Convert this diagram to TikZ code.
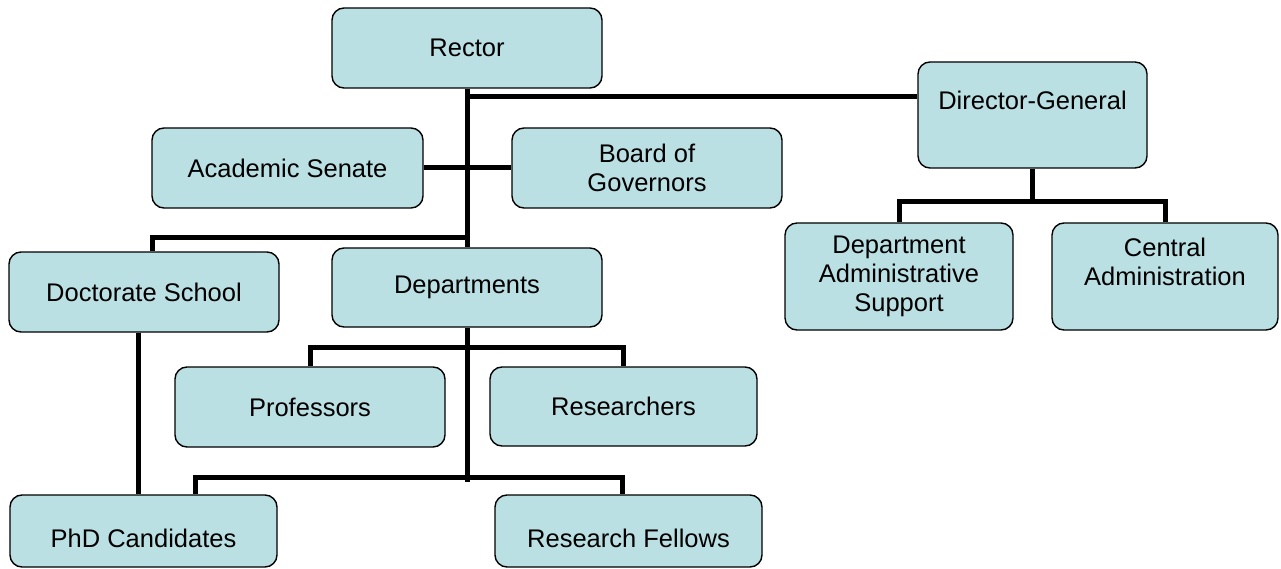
\documentclass[tikz,border=0pt]{standalone}
\usepackage{fontspec}
\setmainfont{Liberation Sans}
\definecolor{boxfill}{RGB}{187,224,227}
\begin{document}
\begin{tikzpicture}[x=1pt,y=-1pt,
  box/.style={draw=black, line width=1.4pt, fill=boxfill, rounded corners=12pt,
    inner sep=0pt, align=center, font=\fontsize{25.5}{29}\selectfont},
  conn/.style={draw=black, line width=5pt, line join=miter}]
\useasboundingbox (0,0) rectangle (1281,569);
% junction coordinates
\coordinate (j1) at (467,97);
\coordinate (j3) at (467,238);
\coordinate (j4) at (467,347);
\coordinate (j5) at (467,477);
\coordinate (tend) at (467,482);
\coordinate (j6) at (1032.5,202);
% boxes (positions)
\path
 node[box, minimum width=270, minimum height=80] (rector) at (467,48) {Rector}
 node[box, minimum width=229, minimum height=106] (dg) at (1032.5,115) {Director-General\\\mbox{}}
 node[box, minimum width=271, minimum height=80] (as) at (287.5,168) {Academic Senate}
 node[box, minimum width=270, minimum height=80] (bg) at (647,168) {Board of\\Governors}
 node[box, minimum width=270, minimum height=80] (ds) at (144,292) {Doctorate School}
 node[box, minimum width=270, minimum height=79] (dep) at (467,287.5) {Departments}
 node[box, minimum width=228, minimum height=107] (das) at (899,276.5) {Department\\Administrative\\Support}
 node[box, minimum width=226, minimum height=107] (ca) at (1165,276.5) {Central\\Administration\\\mbox{}}
 node[box, minimum width=270, minimum height=80] (prof) at (310,407) {Professors}
 node[box, minimum width=267, minimum height=79] (res) at (623.5,406.5) {Researchers}
 node[box, minimum width=267, minimum height=72, text height=32pt, text depth=0pt] (phd) at (143.5,531) {PhD Candidates}
 node[box, minimum width=267, minimum height=72, text height=32pt, text depth=0pt] (rf) at (628.5,531) {Research Fellows};
% connectors (drawn on background layer by ordering)
\begin{scope}[on background layer/.try]
\end{scope}
\draw[conn] (rector.south) -- (dep.north);
\draw[conn] (j1) -- (j1 -| dg.west);
\draw[conn] (as.east) -- (bg.west);
\draw[conn] (j3) -| ([xshift=8pt]ds.north);
\draw[conn] (dep.south) -- (tend);
\draw[conn] (prof.north) |- (j4) -| (res.north);
\draw[conn] ([xshift=51.5pt]phd.north) |- (j5) -| ([xshift=-6.5pt]rf.north);
\draw[conn] ([xshift=-6pt]ds.south) -- ([xshift=-6pt]ds.south |- phd.north);
\draw[conn] (dg.south) -- (j6);
\draw[conn] (das.north) |- (j6) -| (ca.north);
\end{tikzpicture}
\end{document}
